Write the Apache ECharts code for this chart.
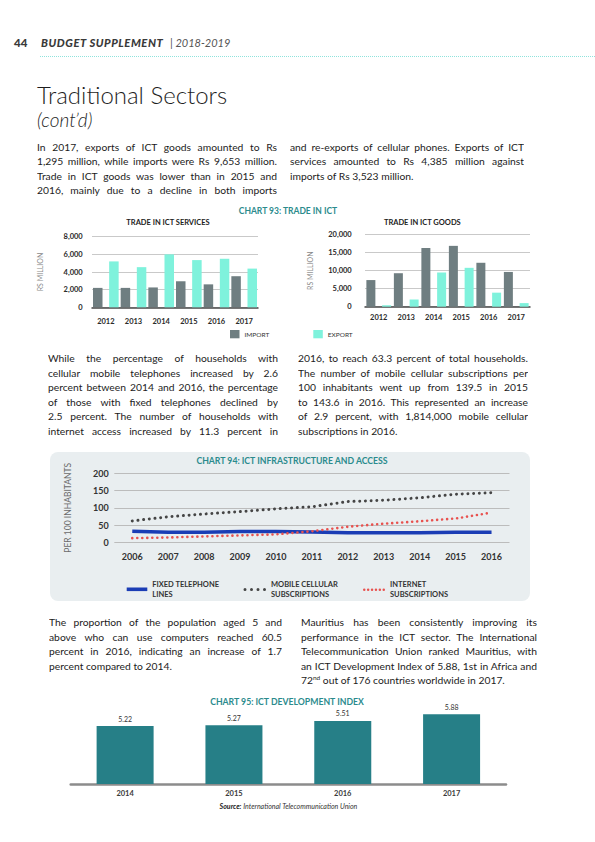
<!DOCTYPE html>
<html><head><meta charset="utf-8">
<script src="https://cdn.jsdelivr.net/npm/echarts@6/dist/echarts.min.js"></script>
<style>
html,body{margin:0;padding:0;background:#fff;}
#page{position:relative;width:595px;height:842px;overflow:hidden;font-family:Lato,"Open Sans",sans-serif;color:#1e1e1e;}
#chart{position:absolute;left:0;top:0;width:595px;height:842px;z-index:0;}
.txt{position:absolute;z-index:1;white-space:nowrap;}
.para{white-space:normal;}
.para div{height:14.5px;line-height:14.5px;font-size:10.3px;text-align:justify;text-align-last:justify;white-space:normal;overflow:hidden;color:#1c1c1c;}
.para div.last{text-align-last:left;}
sup{font-size:6.5px;line-height:0;vertical-align:4px;}
</style></head>
<body><div id="page">
<div id="chart"></div>
<div class="txt" style="left:14px;top:35px;font-size:11.5px;line-height:16px;font-weight:900;color:#3a3a3a">44</div>
<div class="txt" style="left:41px;top:35px;font-size:11.2px;line-height:16px;font-weight:900;font-style:italic;letter-spacing:0.55px;color:#3a3a3a">BUDGET SUPPLEMENT</div>
<div class="txt" style="left:170px;top:35px;font-size:11px;line-height:16px;font-style:italic;color:#555">| 2018-2019</div>
<div class="txt" style="left:40px;top:56px;width:555px;border-top:1.5px dotted #8fe3dc;"></div>
<div class="txt" id="ttl" style="left:37px;top:81px;font-size:24px;line-height:28px;font-weight:300;color:#1e1e1e">Traditional Sectors</div>
<div class="txt" style="left:37px;top:108px;font-size:19px;line-height:24px;font-weight:300;font-style:italic;color:#1e1e1e">(cont’d)</div>
</div>
<script>
// ---- chart data ----
const servicesYears = ['2012','2013','2014','2015','2016','2017'];
const servicesImport = [2200, 2200, 2250, 2950, 2600, 3523];
const servicesExport = [5200, 4550, 6000, 5350, 5500, 4385];
const goodsYears = ['2012','2013','2014','2015','2016','2017'];
const goodsImport = [7400, 9300, 16300, 16900, 12200, 9653];
const goodsExport = [400, 2000, 9500, 10800, 3900, 1000];
const infraYears = ['2006','2007','2008','2009','2010','2011','2012','2013','2014','2015','2016'];
const fixedLines = [32, 29, 29, 31, 31, 30, 28, 28, 28, 29, 29];
const mobileSubs = [62, 74, 82, 89, 97, 103, 118, 122, 129, 139.5, 143.6];
const internetSubs = [12, 14, 17, 20, 23, 32, 45, 54, 61, 69, 86];
const idiYears = ['2014','2015','2016','2017'];
const idiValues = [5.22, 5.27, 5.51, 5.88];

// ---- page text ----
const p1Left = ['In 2017, exports of ICT goods amounted to Rs','1,295 million, while imports were Rs 9,653 million.','Trade in ICT goods was lower than in 2015 and','2016, mainly due to a decline in both imports'];
const p1Right = ['and re-exports of cellular phones. Exports of ICT','services amounted to Rs 4,385 million against','imports of Rs 3,523 million.'];
const p2Left = ['While the percentage of households with','cellular mobile telephones increased by 2.6','percent between 2014 and 2016, the percentage','of those with fixed telephones declined by','2.5 percent. The number of households with','internet access increased by 11.3 percent in'];
const p2Right = ['2016, to reach 63.3 percent of total households.','The number of mobile cellular subscriptions per','100 inhabitants went up from 139.5 in 2015','to 143.6 in 2016. This represented an increase','of 2.9 percent, with 1,814,000 mobile cellular','subscriptions in 2016.'];
const p3Left = ['The proportion of the population aged 5 and','above who can use computers reached 60.5','percent in 2016, indicating an increase of 1.7','percent compared to 2014.'];
const p3Right = ['Mauritius has been consistently improving its','performance in the ICT sector. The International','Telecommunication Union ranked Mauritius, with','an ICT Development Index of 5.88, 1st in Africa and','72<sup>nd</sup> out of 176 countries worldwide in 2017.'];

const page = document.getElementById('page');
function addPara(x, yc, w, lines, lastJust){
  const lh = 14.5;
  const box = document.createElement('div');
  box.className = 'txt para';
  box.style.left = x + 'px'; box.style.top = (yc - lh/2) + 'px'; box.style.width = w + 'px';
  lines.forEach((t, i) => {
    const d = document.createElement('div');
    d.innerHTML = t;
    if (i === lines.length - 1 && !lastJust) d.className = 'last';
    box.appendChild(d);
  });
  page.appendChild(box);
  box.querySelectorAll('div').forEach(d => {
    let ls = 0, n = 0;
    while (d.scrollHeight > d.clientHeight + 1 && n < 40) { ls -= 0.05; d.style.letterSpacing = ls + 'px'; n++; }
  });
}
addPara(37, 147, 240, p1Left, true);
addPara(290, 147, 234, p1Right, false);
addPara(48, 358.5, 230, p2Left, true);
addPara(298, 358.5, 230, p2Right, false);
addPara(49, 622.5, 233, p3Left, false);
addPara(301, 622.5, 236, p3Right, false);

// ---- chart ----
const FONT = 'Lato, "Open Sans", sans-serif';
const TEAL = '#2b8b8d';
const numFmt = v => Number(v).toLocaleString('en-US');
const barLbl = {fontSize:7.5, fontWeight:'bold', color:'#2a2a2a', fontFamily:FONT};
const legendNames = {'FIXED TELEPHONE LINES':'FIXED TELEPHONE\nLINES','MOBILE CELLULAR SUBSCRIPTIONS':'MOBILE CELLULAR\nSUBSCRIPTIONS','INTERNET SUBSCRIPTIONS':'INTERNET\nSUBSCRIPTIONS'};
function dots(n, d, step){
  let p = 'path://';
  const r = d/2;
  for (let i = 0; i < n; i++) { const cx = r + i*step; p += `M${cx-r},${r}a${r},${r} 0 1,0 ${d},0a${r},${r} 0 1,0 ${-d},0Z `; }
  return p;
}
function txt(x, y, text, color, size, weight){
  return {type:'text', x:x, y:y, style:{text:text, fill:color, fontSize:size, fontWeight:weight, fontFamily:FONT, align:'center', verticalAlign:'middle'}};
}
const chart = echarts.init(document.getElementById('chart'), null, {renderer:'svg', width:595, height:842});
const option = {
  animation:false,
  textStyle:{fontFamily:FONT},
  grid:[
    {left:92, top:236.7, width:166, height:70.6},
    {left:365, top:234.7, width:165, height:72},
    {left:114.3, top:473.3, width:395.2, height:69},
    {left:70.7, top:712.1, width:435.3, height:71.9}
  ],
  xAxis:[
    {type:'category', gridIndex:0, data:servicesYears, axisTick:{show:false}, axisLine:{lineStyle:{color:'#4a4a4a', width:1.5}}, axisLabel:Object.assign({}, barLbl, {margin:10})},
    {type:'category', gridIndex:1, data:goodsYears, axisTick:{show:false}, axisLine:{lineStyle:{color:'#4a4a4a', width:1.5}}, axisLabel:Object.assign({}, barLbl, {margin:7})},
    {type:'category', gridIndex:2, data:infraYears, axisTick:{show:false}, axisLine:{show:false}, axisLabel:{fontSize:9, fontWeight:'bold', color:'#333', margin:9.5}},
    {type:'category', gridIndex:3, data:idiYears, axisTick:{show:false}, axisLine:{lineStyle:{color:'#8c8c8c', width:2.5}}, axisLabel:{fontSize:7.5, fontWeight:'bold', color:'#3a3a3a', margin:5}}
  ],
  yAxis:[
    {type:'value', gridIndex:0, min:0, max:8000, interval:2000, name:'RS MILLION', nameLocation:'middle', nameGap:48.7, nameTextStyle:{fontSize:7, color:'#8a8a8a'}, axisLabel:Object.assign({}, barLbl, {margin:9.3, formatter:numFmt}), axisLine:{show:false}, axisTick:{show:false}, splitLine:{lineStyle:{color:'#c9c9c9', width:1}}},
    {type:'value', gridIndex:1, min:0, max:20000, interval:5000, name:'RS MILLION', nameLocation:'middle', nameGap:51.7, nameTextStyle:{fontSize:7, color:'#8a8a8a'}, axisLabel:Object.assign({}, barLbl, {margin:13.3, formatter:numFmt}), axisLine:{show:false}, axisTick:{show:false}, splitLine:{lineStyle:{color:'#c9c9c9', width:1}}},
    {type:'value', gridIndex:2, min:0, max:200, interval:50, name:'PER 100 INHABITANTS', nameLocation:'middle', nameGap:42, nameTextStyle:{fontSize:8.5, color:'#6a6a6a'}, axisLabel:{fontSize:9, fontWeight:'bold', color:'#333', margin:5.6}, axisLine:{show:false}, axisTick:{show:false}, splitLine:{lineStyle:{color:'#bcbcbc', width:1}}},
    {type:'value', gridIndex:3, min:2, max:6, show:false}
  ],
  legend:[
    {data:['IMPORT'], left:230, top:330, icon:'rect', itemWidth:9.5, itemHeight:8.3, padding:0, selectedMode:false, textStyle:{fontSize:6.5, color:'#333'}},
    {data:['EXPORT'], left:313.3, top:330, icon:'rect', itemWidth:9.5, itemHeight:8.3, padding:0, selectedMode:false, textStyle:{fontSize:6.5, color:'#333'}},
    {data:[{name:'FIXED TELEPHONE LINES', icon:'rect'}], left:126.7, top:579.3, itemWidth:20.6, itemHeight:3.6, padding:0, selectedMode:false, symbolKeepAspect:false, itemStyle:{borderWidth:0}, formatter:n => legendNames[n], textStyle:{fontSize:7.5, lineHeight:10, color:'#333', fontWeight:'bold'}},
    {data:[{name:'MOBILE CELLULAR SUBSCRIPTIONS', icon:dots(4, 3, 6.5)}], left:243.5, top:579.5, itemWidth:22.5, itemHeight:3, padding:0, selectedMode:false, symbolKeepAspect:false, itemStyle:{borderWidth:0}, formatter:n => legendNames[n], textStyle:{fontSize:7.5, lineHeight:10, color:'#333', fontWeight:'bold'}},
    {data:[{name:'INTERNET SUBSCRIPTIONS', icon:dots(6, 2.5, 3.9)}], left:363, top:579.7, itemWidth:22, itemHeight:2.5, padding:0, selectedMode:false, symbolKeepAspect:false, itemStyle:{borderWidth:0}, formatter:n => legendNames[n], textStyle:{fontSize:7.5, lineHeight:10, color:'#333', fontWeight:'bold'}}
  ],
  graphic:[
    {type:'rect', z:-10, shape:{x:50, y:452, width:480, height:149, r:8}, style:{fill:'#e9eef0'}},
    txt(288, 210.5, 'CHART 93: TRADE IN ICT', TEAL, 8.5, 'bold'),
    txt(168, 222.7, 'TRADE IN ICT SERVICES', '#222', 7.5, 'bold'),
    txt(422.3, 222.7, 'TRADE IN ICT GOODS', '#222', 7.5, 'bold'),
    txt(292, 460, 'CHART 94: ICT INFRASTRUCTURE AND ACCESS', TEAL, 8.7, 'bold'),
    txt(287, 701.4, 'CHART 95: ICT DEVELOPMENT INDEX', TEAL, 8.7, 'bold'),
    {type:'text', x:288.5, y:805.5, style:{text:'{b|Source:} {i|International Telecommunication Union}', align:'center', verticalAlign:'middle', fill:'#333', fontSize:7, fontFamily:FONT,
      rich:{b:{fontWeight:'bold', fontStyle:'italic', fontSize:7, fill:'#222', fontFamily:FONT}, i:{fontStyle:'italic', fontSize:7, fill:'#333', fontFamily:FONT}}}}
  ],
  series:[
    {type:'bar', name:'IMPORT', xAxisIndex:0, yAxisIndex:0, data:servicesImport, barWidth:9.5, barGap:'70%', itemStyle:{color:'#6f7e81'}},
    {type:'bar', name:'EXPORT', xAxisIndex:0, yAxisIndex:0, data:servicesExport, barWidth:9.5, barGap:'70%', itemStyle:{color:'#7ff2dc'}},
    {type:'bar', name:'IMPORT', xAxisIndex:1, yAxisIndex:1, data:goodsImport, barWidth:9, barGap:'75%', itemStyle:{color:'#6f7e81'}},
    {type:'bar', name:'EXPORT', xAxisIndex:1, yAxisIndex:1, data:goodsExport, barWidth:9, barGap:'75%', itemStyle:{color:'#7ff2dc'}},
    {type:'line', name:'FIXED TELEPHONE LINES', xAxisIndex:2, yAxisIndex:2, data:fixedLines, symbol:'circle', showSymbol:false, color:'#1b3db5', lineStyle:{color:'#1b3db5', width:3.5}, z:3},
    {type:'line', name:'MOBILE CELLULAR SUBSCRIPTIONS', xAxisIndex:2, yAxisIndex:2, data:mobileSubs, symbol:'circle', showSymbol:false, color:'#454545', lineStyle:{color:'#454545', width:3, type:[0.01, 5.7], cap:'round'}},
    {type:'line', name:'INTERNET SUBSCRIPTIONS', xAxisIndex:2, yAxisIndex:2, data:internetSubs, symbol:'circle', showSymbol:false, color:'#e8524f', lineStyle:{color:'#e8524f', width:2.6, type:[0.01, 5], cap:'round'}},
    {type:'bar', name:'ICT Development Index', xAxisIndex:3, yAxisIndex:3, data:idiValues, barWidth:57, itemStyle:{color:'#267f87'},
      label:{show:true, position:'top', distance:4, fontSize:7, color:'#333', fontFamily:FONT}}
  ]
};
chart.setOption(option);
</script>
</body></html>
